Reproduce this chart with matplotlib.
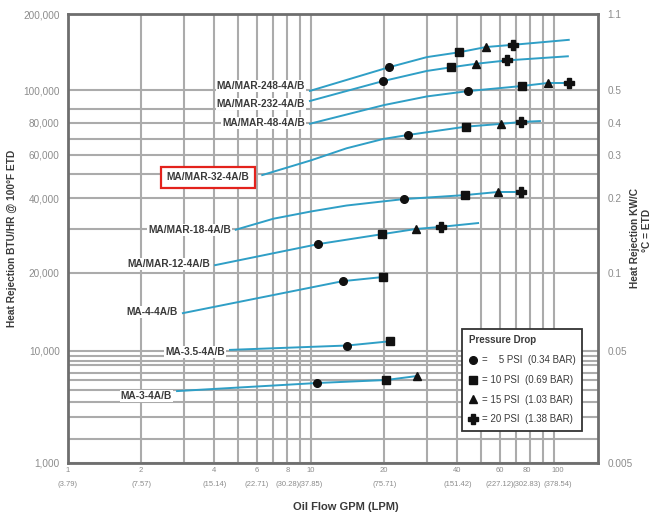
import numpy as np
import matplotlib.pyplot as plt
import matplotlib.transforms as mtransforms
from matplotlib.lines import Line2D
from matplotlib.ticker import NullFormatter

plt.rcParams['font.family'] = ['Liberation Sans', 'DejaVu Sans']

# Krzywe (GPM, BTU/HR)
MODELS = ['MA/MAR-248-4A/B', 'MA/MAR-232-4A/B', 'MA/MAR-48-4A/B', 'MA/MAR-32-4A/B',
          'MA/MAR-18-4A/B', 'MA/MAR-12-4A/B', 'MA-4-4A/B', 'MA-3.5-4A/B', 'MA-3-4A/B']

gpm_248 = [9.9, 20.9, 30, 40.6, 52.5, 67.8, 115]
btu_248 = [99500, 123000, 135000, 141000, 148000, 151000, 158000]
gpm_232 = [9.9, 19.8, 30, 37.7, 47.7, 64.1, 114]
btu_232 = [94100, 108500, 119000, 123000, 127000, 131000, 136000]
gpm_48 = [9.9, 20, 30, 44.3, 73.8, 94.4, 115]
btu_48 = [79500, 92000, 96500, 99400, 103700, 106600, 106600]
gpm_32 = [6.3, 10, 14, 19.8, 25.1, 43.4, 60.5, 73.1, 87.5]
btu_32 = [49500, 57000, 64000, 70000, 72400, 77600, 79400, 80700, 81300]
gpm_18 = [4.9, 7, 10, 14, 20, 24.1, 43.0, 58.8, 73.1]
btu_18 = [29800, 33000, 35300, 37300, 38800, 39600, 41100, 42300, 42300]
gpm_12 = [4.03, 10.7, 19.6, 27.0, 34.3, 48.7]
btu_12 = [21500, 26100, 28600, 30000, 30600, 31700]
gpm_4 = [2.97, 13.5, 19.8]
btu_4 = [14000, 18600, 19300]
gpm_35 = [4.64, 14.1, 21.1]
btu_35 = [10100, 10500, 10900]
gpm_3 = [2.81, 10.6, 20.4, 27.3]
btu_3 = [4900, 5680, 6000, 6550]

curves = [(gpm_248, btu_248), (gpm_232, btu_232), (gpm_48, btu_48), (gpm_32, btu_32),
          (gpm_18, btu_18), (gpm_12, btu_12), (gpm_4, btu_4), (gpm_35, btu_35), (gpm_3, btu_3)]

# Punkty spadku cisnienia
psi5_gpm = [20.9, 19.8, 44.3, 25.1, 24.1, 10.7, 13.5, 14.1, 10.6]
psi5_btu = [123000, 108500, 99400, 72400, 39600, 26100, 18600, 10500, 5680]
psi10_gpm = [40.6, 37.7, 73.8, 43.4, 43.0, 19.6, 19.8, 21.1, 20.4]
psi10_btu = [141000, 123000, 103700, 77600, 41100, 28600, 19300, 10900, 6000]
psi15_gpm = [52.5, 47.7, 94.4, 60.5, 58.8, 27.0, 27.3]
psi15_btu = [148000, 127000, 106600, 79400, 42300, 30000, 6550]
psi20_gpm = [67.8, 64.1, 115, 73.1, 73.1, 34.3]
psi20_btu = [151000, 131000, 106600, 80700, 42300, 30600]

x_major = [1, 2, 4, 6, 8, 10, 20, 40, 60, 80, 100]
x_major_lbl = ['1\n(3.79)', '2\n(7.57)', '4\n(15.14)', '6\n(22.71)', '8\n(30.28)', '10\n(37.85)',
               '20\n(75.71)', '40\n(151.42)', '60\n(227.12)', '80\n(302.83)', '100\n(378.54)']
x_minor = [3, 5, 7, 9, 30, 50, 70, 90]
y_major = [1000, 10000, 20000, 40000, 60000, 80000, 100000, 200000]
y_major_lbl = ['1,000', '10,000', '20,000', '40,000', '60,000', '80,000', '100,000', '200,000']
kw_lbl = ['0.005', '0.05', '0.1', '0.2', '0.3', '0.4', '0.5', '1.1']
y_minor = [2000, 3000, 4000, 5000, 6000, 7000, 8000, 9000, 9500, 30000, 50000, 70000, 90000]

# Skala pionowa wykresu nie jest czysto logarytmiczna - odwzorowanie kawalkami
SCALE_V = np.array([1000, 2000, 3000, 4000, 5000, 6000, 7000, 8000, 9000, 9500, 10000,
                    20000, 30000, 40000, 50000, 60000, 70000, 80000, 90000, 100000, 200000])
SCALE_P = -np.array([463, 439, 417, 402, 390, 380, 373, 365, 361, 356, 351,
                     273, 229, 198, 174, 155, 139, 123, 109, 90, 14], dtype=float)


def fwd(v):
    return np.interp(np.log10(np.clip(v, 1, None)), np.log10(SCALE_V), SCALE_P)


def inv(p):
    return 10 ** np.interp(p, SCALE_P, np.log10(SCALE_V))


line_col = '#2f9fc6'
grid_col = '#ababab'
tick_col = '#8c8c8c'
text_col = '#3a3a3a'

fig = plt.figure(figsize=(6.55, 5.14), dpi=100)
ax = fig.add_axes([68 / 655, 51 / 514, 530 / 655, 449 / 514])
ax.set_xscale('log')
ax.set_yscale('function', functions=(fwd, inv))
ax.set_xlim(1, 151.7)
ax.set_ylim(1000, 200000)

ax.set_xticks(x_major, x_major_lbl)
ax.set_xticks(x_minor, minor=True)
ax.xaxis.set_minor_formatter(NullFormatter())
ax.set_yticks(y_major, y_major_lbl)
ax.set_yticks(y_minor, minor=True)
ax.yaxis.set_minor_formatter(NullFormatter())
ax.grid(which='both', color=grid_col, linewidth=1.5)
ax.set_axisbelow(True)
ax.tick_params(which='both', length=0)
ax.tick_params(axis='y', pad=6, labelsize=7.2, labelcolor=tick_col)
ax.tick_params(axis='x', pad=3, labelsize=5.5, labelcolor=tick_col)
xlbls = ax.get_xticklabels()
for lbl in xlbls:
    lbl.set_linespacing(2.3)
# etykiety 80 i 100 stykaja sie na oryginale - lekko je rozsuwam
xlbls[9].set_transform(xlbls[9].get_transform() + mtransforms.ScaledTranslation(-0.04, 0, fig.dpi_scale_trans))
xlbls[10].set_transform(xlbls[10].get_transform() + mtransforms.ScaledTranslation(0.035, 0, fig.dpi_scale_trans))
for s in ax.spines.values():
    s.set_color('#6e6e6e')
    s.set_linewidth(2)

ax2 = ax.twinx()
ax2.set_yscale('function', functions=(fwd, inv))
ax2.set_ylim(1000, 200000)
ax2.set_yticks(y_major, kw_lbl)
ax2.set_yticks([], minor=True)
ax2.tick_params(which='both', length=0, pad=7, labelsize=7.2, labelcolor=tick_col)
for s in ax2.spines.values():
    s.set_visible(False)

# Krzywe i etykiety modeli
label_dy = [5, -3, 1, -2, 0, 1, 1, -2, -5]
for (g, b), name, dy in zip(curves, MODELS, label_dy):
    ax.plot(g, b, color=line_col, linewidth=1.4, zorder=3)
    if name == 'MA/MAR-32-4A/B':
        ax.annotate(name, xy=(g[0], b[0]), xytext=(-13, dy), textcoords='offset pixels',
                    ha='right', va='center', fontsize=7.3, fontweight='bold', color=text_col,
                    bbox=dict(boxstyle='square,pad=0.55', fc='white', ec='#e3221c', lw=1.6), zorder=4)
    else:
        ax.annotate(name, xy=(g[0], b[0]), xytext=(-5, dy), textcoords='offset pixels',
                    ha='right', va='center', fontsize=7.3, fontweight='bold', color=text_col,
                    bbox=dict(boxstyle='square,pad=0.1', fc='white', ec='none'), zorder=4)

mk = dict(linestyle='none', color='#111111', zorder=5)
ax.plot(psi5_gpm, psi5_btu, marker='o', markersize=5.5, **mk)
ax.plot(psi10_gpm, psi10_btu, marker='s', markersize=5.5, **mk)
ax.plot(psi15_gpm, psi15_btu, marker='^', markersize=5.5, **mk)
ax.plot(psi20_gpm, psi20_btu, marker='P', markersize=7.5, **mk)

handles = [Line2D([], [], marker='o', markersize=5.5, **mk),
           Line2D([], [], marker='s', markersize=5.5, **mk),
           Line2D([], [], marker='^', markersize=5.5, **mk),
           Line2D([], [], marker='P', markersize=7.5, **mk)]
labels = ['=    5 PSI  (0.34 BAR)', '= 10 PSI  (0.69 BAR)',
          '= 15 PSI  (1.03 BAR)', '= 20 PSI  (1.38 BAR)']
leg = ax.legend(handles, labels, title='Pressure Drop', loc='upper left',
                bbox_to_anchor=(0.735, 0.31), frameon=True, fancybox=False,
                edgecolor='#333333', framealpha=1, fontsize=7, title_fontsize=7,
                handlelength=0.8, handletextpad=0.5, labelspacing=1.0, borderpad=0.7,
                alignment='left')
leg.get_frame().set_linewidth(1.3)
leg.get_title().set_fontweight('bold')
leg.get_title().set_color(text_col)
for t in leg.get_texts():
    t.set_color(text_col)
leg.set_zorder(10)

fig.text(346 / 655, 1 - 507 / 514, 'Oil Flow GPM (LPM)', ha='center', va='center',
         fontsize=8, fontweight='bold', color=text_col)
fig.text(12 / 655, 1 - 238 / 514, 'Heat Rejection BTU/HR @ 100°F ETD', rotation=90,
         ha='center', va='center', fontsize=7.3, fontweight='bold', color=text_col)
fig.text(635 / 655, 1 - 238 / 514, 'Heat Rejection KW/C', rotation=90,
         ha='center', va='center', fontsize=7.3, fontweight='bold', color=text_col)
fig.text(647 / 655, 1 - 230 / 514, '°C = ETD', rotation=90,
         ha='center', va='center', fontsize=7.3, fontweight='bold', color=text_col)

fig.savefig('out.png', dpi=100)
